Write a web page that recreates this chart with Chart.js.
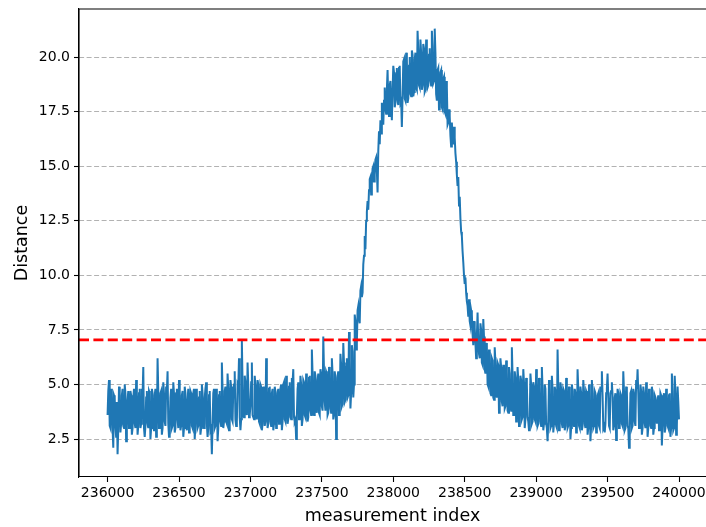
<!DOCTYPE html>
<html lang="en">
<head>
    <meta charset="UTF-8">
    <title>Distance per measurement</title>
    <script src="https://cdn.jsdelivr.net/npm/chart.js"></script>
    <style>
        body { margin: 0; background: #fff; }
    </style>
</head>
<body>
    <canvas id="distanceChart" width="706" height="527"></canvas>
    <script>
        // one reading every 5 measurements, starting at indexStart
        const indexStart = 236000;
        const indexStep = 5;
        const distance = [
            3.6, 4.7, 5.2, 3.1, 3.0, 4.8, 4.6, 3.0, 2.1, 4.5, 4.4, 3.1, 2.6, 4.2, 1.8, 3.0, 4.9, 4.6, 2.8, 3.2,
            4.5, 4.8, 3.1, 3.0, 5.0, 4.6, 2.4, 3.1, 4.3, 4.7, 3.0, 3.2, 4.7, 4.5, 2.7, 3.0, 4.4, 4.8, 3.2, 3.0,
            5.2, 4.6, 2.7, 3.1, 4.6, 4.8, 3.0, 3.2, 4.8, 4.5, 5.8, 3.0, 2.6, 3.1, 4.4, 4.7, 3.2, 3.0, 4.7, 4.6,
            2.5, 3.0, 4.8, 4.6, 3.1, 2.9, 4.5, 4.8, 2.6, 3.1, 6.2, 4.7, 3.0, 3.1, 4.6, 4.7, 2.7, 3.0, 5.1, 4.6,
            3.3, 3.1, 4.9, 4.7, 5.6, 3.2, 2.6, 3.0, 4.4, 4.8, 3.0, 3.1, 5.1, 4.6, 2.8, 3.0, 4.6, 4.8, 3.4, 3.0,
            5.2, 4.7, 2.9, 3.1, 4.5, 4.7, 2.6, 3.0, 4.9, 4.6, 3.2, 2.9, 4.3, 4.8, 2.8, 3.1, 4.7, 4.6, 3.1, 3.0,
            4.6, 4.8, 2.5, 3.1, 4.8, 4.6, 3.0, 3.1, 4.4, 4.7, 2.7, 3.0, 5.0, 4.6, 3.2, 3.0, 4.4, 4.8, 5.1, 3.2,
            2.6, 3.0, 4.5, 4.7, 2.9, 3.0, 1.8, 3.2, 4.6, 4.8, 3.0, 3.1, 4.8, 4.6, 2.4, 3.0, 4.5, 4.7, 3.3, 3.1,
            6.0, 4.8, 3.0, 3.3, 4.7, 4.9, 3.3, 3.2, 5.5, 4.8, 2.9, 3.3, 5.2, 4.9, 3.4, 3.3, 4.8, 5.0, 5.6, 3.4,
            3.1, 3.3, 5.0, 4.9, 6.2, 3.5, 2.9, 3.4, 7.0, 5.0, 3.6, 3.5, 5.4, 5.1, 3.8, 3.6, 6.0, 5.0, 3.5, 3.6,
            4.0, 5.1, 6.0, 3.6, 3.5, 3.4, 5.4, 5.0, 3.7, 3.4, 5.2, 5.0, 3.3, 3.2, 5.0, 4.9, 2.9, 3.2, 4.7, 4.9,
            3.1, 3.3, 6.2, 4.8, 3.0, 3.2, 4.8, 4.9, 3.3, 3.1, 4.6, 4.8, 2.9, 3.2, 4.9, 4.7, 3.0, 3.1, 4.6, 4.8,
            3.2, 3.3, 4.8, 5.0, 2.9, 3.3, 5.0, 5.1, 3.4, 3.3, 5.4, 5.0, 3.2, 3.4, 4.9, 5.1, 3.5, 3.4, 5.3, 5.1,
            5.7, 3.5, 3.3, 3.4, 2.5, 3.6, 4.8, 5.1, 3.4, 3.5, 5.4, 5.0, 3.1, 3.4, 5.2, 5.1, 3.6, 3.5, 5.5, 5.2,
            3.3, 3.5, 5.3, 5.4, 3.8, 3.6, 6.6, 5.5, 3.7, 3.6, 5.6, 5.4, 3.9, 3.7, 5.2, 5.5, 3.7, 3.6, 5.7, 5.5,
            4.0, 3.8, 7.2, 5.6, 4.2, 3.8, 5.6, 5.5, 3.6, 3.7, 5.8, 5.6, 3.9, 3.7, 6.2, 5.5, 3.4, 3.6, 5.6, 5.3,
            2.5, 3.7, 5.4, 5.6, 3.6, 3.9, 6.4, 5.9, 4.0, 4.1, 6.9, 6.0, 4.2, 4.3, 5.8, 6.2, 4.4, 4.5, 7.4, 6.1,
            3.9, 4.6, 6.8, 6.5, 4.4, 5.0, 8.2, 7.9, 6.6, 6.9, 8.4, 8.6, 8.0, 7.8, 9.3, 9.5, 9.0, 9.2, 10.5, 10.9,
            11.8, 11.2, 12.5, 12.9, 13.4, 13.0, 13.9, 14.4, 14.5, 13.7, 14.2, 14.9, 15.0, 14.3, 14.6, 15.3, 15.4, 14.8, 13.8, 15.7,
            16.6, 16.0, 17.1, 16.5, 17.9, 17.2, 16.9, 18.0, 18.6, 17.6, 17.4, 18.5, 19.4, 18.0, 17.3, 18.7, 18.9, 17.8, 17.1, 18.4,
            19.6, 19.3, 17.7, 17.9, 19.2, 19.5, 18.0, 17.8, 19.5, 19.6, 17.9, 18.0, 16.8, 18.2, 19.8, 19.9, 18.1, 18.0, 20.2, 19.9,
            17.9, 18.1, 19.6, 20.0, 18.3, 18.2, 20.3, 20.1, 18.2, 18.4, 19.9, 20.2, 18.6, 18.5, 21.2, 20.3, 18.7, 18.6, 20.8, 20.2,
            18.5, 18.7, 20.6, 20.4, 18.4, 18.5, 20.8, 20.3, 18.6, 18.7, 20.1, 20.4, 18.9, 18.7, 21.2, 20.5, 18.8, 18.9, 21.3, 20.2,
            18.3, 18.0, 19.4, 19.5, 17.6, 17.8, 19.3, 19.4, 17.7, 17.6, 19.0, 19.1, 17.5, 17.4, 18.9, 18.6, 16.9, 17.0, 17.6, 17.3,
            16.4, 15.9, 17.0, 16.4, 16.0, 16.8, 16.3, 15.6, 15.2, 14.6, 14.1, 14.5, 13.2, 13.6, 12.6, 12.0, 11.8, 11.1, 10.6, 10.0,
            9.6, 9.9, 9.2, 8.8, 8.6, 8.1, 8.9, 7.9, 7.7, 8.4, 8.2, 7.3, 6.8, 7.9, 7.6, 6.9, 6.2, 7.2, 8.3, 7.0,
            6.4, 6.2, 7.8, 7.5, 6.0, 5.9, 8.0, 7.2, 5.7, 5.5, 6.9, 6.7, 5.0, 4.9, 6.6, 6.3, 4.6, 4.5, 6.2, 6.1,
            4.4, 4.3, 6.7, 6.0, 4.6, 4.4, 6.0, 5.9, 3.7, 4.1, 6.2, 5.8, 4.2, 4.0, 5.9, 5.7, 3.9, 4.0, 6.1, 5.6,
            3.8, 3.7, 5.8, 5.5, 4.0, 3.8, 6.7, 5.4, 3.6, 3.6, 5.6, 5.3, 3.3, 3.5, 5.8, 5.2, 3.1, 3.4, 5.4, 5.2,
            3.4, 3.5, 5.7, 5.1, 3.0, 3.4, 5.3, 5.0, 3.5, 3.3, 2.9, 3.5, 5.5, 5.0, 3.2, 3.3, 5.1, 4.9, 3.4, 3.3,
            5.7, 5.0, 3.1, 3.2, 5.3, 4.9, 3.3, 3.1, 5.8, 4.8, 2.9, 3.2, 5.0, 4.8, 3.2, 3.0, 2.4, 3.3, 5.2, 4.9,
            3.0, 3.1, 5.4, 4.8, 2.8, 3.2, 4.9, 4.7, 3.1, 3.0, 6.6, 4.9, 2.9, 3.1, 5.1, 4.8, 3.2, 3.0, 4.8, 4.7,
            2.9, 3.1, 5.3, 4.8, 3.0, 3.1, 4.9, 4.7, 2.5, 3.0, 5.0, 4.7, 3.3, 3.1, 4.8, 4.6, 2.8, 3.0, 5.7, 4.8,
            3.1, 3.0, 4.9, 4.6, 2.9, 3.1, 5.2, 4.7, 3.2, 3.0, 4.7, 4.6, 2.7, 3.0, 5.0, 4.7, 2.4, 3.1, 5.2, 4.6,
            3.0, 3.1, 4.7, 4.6, 2.8, 3.0, 4.5, 4.6, 3.1, 3.0, 4.9, 4.7, 5.6, 4.5, 3.0, 3.1, 2.8, 3.2, 4.6, 4.8,
            5.5, 4.4, 3.1, 3.0, 4.6, 4.7, 5.1, 4.5, 2.9, 3.1, 4.4, 4.6, 2.45, 3.1, 4.8, 4.6, 3.0, 3.1, 4.6, 4.5,
            3.2, 3.1, 5.6, 4.7, 2.9, 3.0, 4.9, 4.7, 3.1, 3.0, 2.1, 3.1, 4.6, 4.7, 3.0, 3.1, 4.8, 4.6, 3.3, 3.1,
            5.2, 4.8, 5.7, 4.6, 3.0, 3.1, 5.0, 4.7, 2.7, 3.0, 4.9, 4.6, 3.2, 3.0, 5.1, 4.7, 2.6, 3.0, 4.8, 4.6,
            3.1, 3.0, 4.9, 4.6, 2.7, 3.0, 4.5, 4.4, 3.6, 3.2, 4.3, 4.5, 2.9, 3.0, 4.6, 4.5, 2.2, 3.1, 4.4, 4.6,
            2.8, 3.0, 4.8, 4.5, 3.1, 3.0, 4.5, 4.6, 2.6, 3.0, 5.5, 4.7, 2.9, 3.0, 5.4, 4.6, 2.7, 3.1, 4.9, 4.2,
            3.4
        ];
        const threshold = 7.04;
        const xTicks = [236000, 236500, 237000, 237500, 238000, 238500, 239000, 239500, 240000];
        const yTicks = [2.5, 5.0, 7.5, 10.0, 12.5, 15.0, 17.5, 20.0];

        const points = distance.map((d, i) => ({ x: indexStart + i * indexStep, y: d }));

        // top and left spines, like a matplotlib axes box
        const frame = {
            id: 'frame',
            afterDraw(chart) {
                const { ctx, chartArea: a } = chart;
                ctx.save();
                ctx.strokeStyle = '#000';
                ctx.lineWidth = 1.1;
                ctx.beginPath();
                ctx.moveTo(a.left, a.bottom);
                ctx.lineTo(a.left, a.top);
                ctx.lineTo(a.right + 2, a.top);
                ctx.stroke();
                ctx.restore();
            }
        };

        const font = { family: 'DejaVu Sans', size: 14 };
        const titleFont = { family: 'DejaVu Sans', size: 17.5 };
        const noEdgePadding = s => {
            s.paddingTop = 0;
            s.paddingBottom = 0;
            s.paddingLeft = 0;
            s.paddingRight = 0;
        };

        new Chart(document.getElementById('distanceChart'), {
            type: 'line',
            data: {
                datasets: [{
                    data: points,
                    borderColor: '#1f77b4',
                    borderWidth: 2,
                    pointRadius: 0,
                    tension: 0,
                    order: 2
                }, {
                    data: [{ x: 235800, y: threshold }, { x: 240200, y: threshold }],
                    borderColor: '#ff0000',
                    borderWidth: 2.8,
                    borderDash: [10, 4.4],
                    pointRadius: 0,
                    order: 1
                }]
            },
            options: {
                responsive: false,
                animation: false,
                layout: { padding: { left: 0, top: 9, right: 0, bottom: 0 } },
                plugins: {
                    legend: { display: false },
                    tooltip: { enabled: false }
                },
                scales: {
                    x: {
                        type: 'linear',
                        min: 235800,
                        max: 240189,
                        afterFit: s => { s.height = 50; noEdgePadding(s); },
                        afterBuildTicks: s => { s.ticks = xTicks.map(v => ({ value: v })); },
                        grid: {
                            drawOnChartArea: false,
                            tickLength: 5,
                            tickColor: '#000',
                            tickWidth: 1.1
                        },
                        border: { color: '#000', width: 1.1 },
                        ticks: {
                            color: '#000',
                            font: font,
                            padding: 3,
                            maxRotation: 0,
                            autoSkip: false,
                            callback: v => String(v)
                        },
                        title: {
                            display: true,
                            text: 'measurement index',
                            color: '#000',
                            font: titleFont,
                            padding: { top: 0, bottom: 0 }
                        }
                    },
                    y: {
                        min: 0.76,
                        max: 22.2,
                        afterFit: s => { s.width = 79; noEdgePadding(s); },
                        afterBuildTicks: s => { s.ticks = yTicks.map(v => ({ value: v })); },
                        grid: {
                            color: 'rgba(0,0,0,0.3)',
                            lineWidth: 1,
                            tickLength: 5,
                            tickColor: '#000',
                            tickWidth: 1.1,
                            tickBorderDash: []
                        },
                        border: { color: '#000', width: 1.1, dash: [5, 2.5] },
                        ticks: {
                            color: '#000',
                            font: font,
                            padding: 4,
                            callback: v => v.toFixed(1)
                        },
                        title: {
                            display: true,
                            text: 'Distance',
                            color: '#000',
                            font: titleFont,
                            padding: { top: 12, bottom: 0 }
                        }
                    }
                }
            },
            plugins: [frame]
        });
    </script>
</body>
</html>
